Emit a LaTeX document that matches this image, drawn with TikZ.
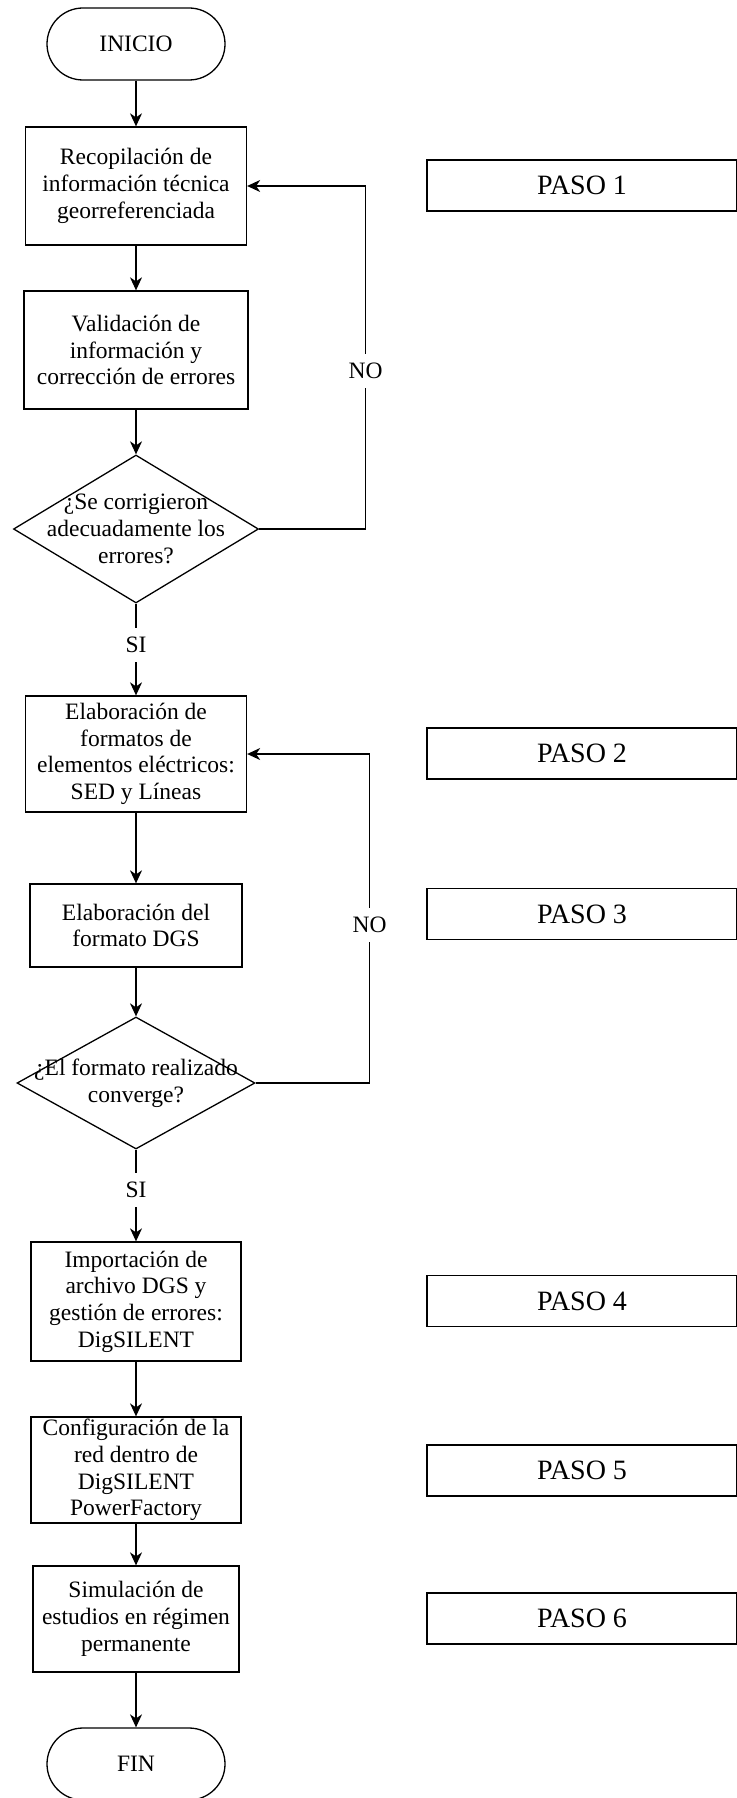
\documentclass[tikz,border=0pt]{standalone}
\usepackage{fontspec}
\setmainfont{Liberation Serif}
\usetikzlibrary{shapes.geometric,arrows.meta}

\tikzset{
  proc/.style={draw, rectangle, line width=1.3pt, align=center, inner sep=0pt, font=\fontsize{23.5}{26.7}\selectfont},
  term/.style={proc, rounded corners=36pt, minimum width=178pt, minimum height=72pt},
  decision/.style={draw, diamond, line width=1.3pt, inner sep=0pt},
  qtext/.style={align=center, inner sep=0pt, font=\fontsize{23.5}{26.7}\selectfont},
  pasobox/.style={draw, rectangle, line width=1.3pt, minimum width=310pt, minimum height=51pt, font=\fontsize{28}{32}\selectfont},
  flow/.style={line width=1.3pt, -{Stealth[length=13pt,width=12pt,inset=4pt]}},
  tag/.style={fill=white, inner xsep=2pt, inner ysep=9pt, font=\fontsize{23.5}{26.7}\selectfont}
}

\begin{document}
\begin{tikzpicture}[x=1pt, y=-1pt]
    \useasboundingbox (0,0) rectangle (736,1798);

    \node[term] (inicio) at (136,44) {INICIO};
    \node[proc, minimum width=221pt, minimum height=118pt] (b1) at (136,186) {Recopilación de\\información técnica\\georreferenciada};
    \node[proc, minimum width=224pt, minimum height=118pt] (b2) at (136,350) {Validación de\\información y\\corrección de errores};
    \node[decision, minimum width=245pt, minimum height=148pt] (q1) at (136,529) {};
    \node[qtext] (q1t) at (q1) {¿Se corrigieron\\adecuadamente los\\errores?};
    \node[proc, minimum width=221pt, minimum height=116pt] (b3) at (136,754) {Elaboración de\\formatos de\\elementos eléctricos:\\SED y Líneas};
    \node[proc, minimum width=212pt, minimum height=83pt] (b4) at (136,925.5) {Elaboración del\\formato DGS};
    \node[decision, minimum width=238pt, minimum height=132pt] (q2) at (136,1083) {};
    \node[qtext] (q2t) at (q2) {¿El formato realizado\\converge?};
    \node[proc, minimum width=210pt, minimum height=119pt] (b5) at (136,1301.5) {Importación de\\archivo DGS y\\gestión de errores:\\DigSILENT};
    \node[proc, minimum width=210pt, minimum height=106pt] (b6) at (136,1470) {Configuración de la\\red dentro de\\DigSILENT\\PowerFactory};
    \node[proc, minimum width=206pt, minimum height=106pt] (b7) at (136,1619) {Simulación de\\estudios en régimen\\permanente};
    \node[term] (fin) at (136,1764) {FIN};

    \foreach \a/\b in {inicio/b1, b1/b2, b2/q1, b3/b4, b4/q2, b5/b6, b6/b7, b7/fin}
      \draw[flow] (\a) -- (\b);

    \draw[flow] (q1.south) -- node[tag, pos=0.45] (si1) {SI} (b3.north);
    \draw[flow] (q2.south) -- node[tag, pos=0.44] (si2) {SI} (b5.north);
    \draw[flow] (q1.east) -- ++(106.5,0) |- node[tag, pos=0.23] (no1) {NO} (b1.east);
    \draw[flow] (q2.east) -- ++(114,0) |- node[tag, pos=0.24] (no2) {NO} (b3.east);

    \foreach \n/\y in {1/185.5, 2/753.5, 3/914, 4/1301, 5/1470.5, 6/1618.5}
      \node[pasobox] (paso\n) at (582,\y) {PASO \n};
  \end{tikzpicture}
\end{document}
